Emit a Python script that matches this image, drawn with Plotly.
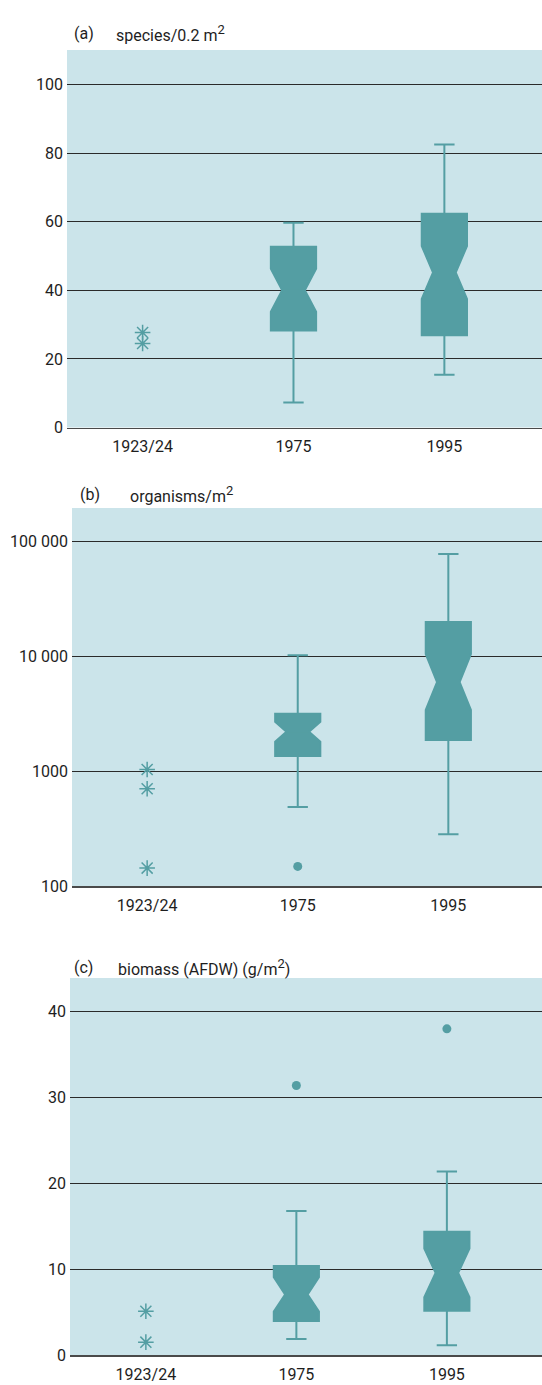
import numpy as np
import plotly.graph_objects as go

# ---------------- data ----------------
categories = ["1923/24", "1975", "1995"]
box_years = ["1975", "1995"]

# (a) species / 0.2 m2
a_stars = [27.7, 24.5]
a_q1 = [28.3, 26.9]
a_median = [40.0, 45.2]
a_q3 = [52.7, 62.3]
a_low = [7.3, 15.4]
a_high = [59.7, 82.5]
a_notch_lo = [33.1, 38.0]
a_notch_hi = [45.6, 53.4]
a_outliers_x, a_outliers_y = [], []

# (b) organisms / m2
b_stars = [1040, 706, 144]
b_q1 = [1360, 1875]
b_median = [2220, 6010]
b_q3 = [3180, 20000]
b_low = [489, 284]
b_high = [10300, 78100]
b_notch_lo = [1778, 3206]
b_notch_hi = [2655, 9795]
b_outliers_x = ["1975"]
b_outliers_y = [149]
b_tickvals = [100, 1000, 10000, 100000]
b_ticktext = ["100", "1000", "10 000", "100 000"]

# (c) biomass (AFDW) g/m2
c_stars = [5.15, 1.55]
c_q1 = [4.0, 5.2]
c_median = [7.1, 9.6]
c_q3 = [10.4, 14.4]
c_low = [1.9, 1.2]
c_high = [16.8, 21.4]
c_notch_lo = [5.1, 6.6]
c_notch_hi = [9.1, 12.25]
c_outliers_x = ["1975", "1995"]
c_outliers_y = [31.4, 38.0]

# ---------------- style ----------------
W, H = 542, 1397
REF_H = 1385.0
TEAL = "#549ea3"
BG = "#cbe4ea"
FONT = "Roboto, 'Open Sans', sans-serif"
TXT = "#1e1e1e"

def px_x(p):
    return p / W

def px_y(p):
    return 1 - p / REF_H

fig = go.Figure()

panels = [
    dict(st=a_stars, q1=a_q1, med=a_median, q3=a_q3, lo=a_low, hi=a_high,
         nlo=a_notch_lo, nhi=a_notch_hi, ox=a_outliers_x, oy=a_outliers_y, log=False,
         xd=(67, 542), yd=(50, 427), xr=(-0.501, 2.647), yr=(0, 110),
         tickvals=[0, 20, 40, 60, 80, 100], ticktext=None),
    dict(st=b_stars, q1=b_q1, med=b_median, q3=b_q3, lo=b_low, hi=b_high,
         nlo=b_notch_lo, nhi=b_notch_hi, ox=b_outliers_x, oy=b_outliers_y, log=True,
         xd=(72, 542), yd=(507.3, 885), xr=(-0.499, 2.622), yr=(2, 5.294),
         tickvals=b_tickvals, ticktext=b_ticktext),
    dict(st=c_stars, q1=c_q1, med=c_median, q3=c_q3, lo=c_low, hi=c_high,
         nlo=c_notch_lo, nhi=c_notch_hi, ox=c_outliers_x, oy=c_outliers_y, log=False,
         xd=(70, 542), yd=(976.7, 1353.5), xr=(-0.504, 2.632), yr=(0, 43.9),
         tickvals=[0, 10, 20, 30, 40], ticktext=None),
]

for i, p in enumerate(panels):
    n = i + 1
    xa = "x" if n == 1 else f"x{n}"
    ya = "y" if n == 1 else f"y{n}"
    f = (lambda v: np.log10(np.array(v, dtype=float))) if p["log"] else (lambda v: np.array(v, dtype=float))
    med = f(p["med"])
    span = (f(p["nhi"]) - f(p["nlo"])) / 2
    fig.add_trace(go.Box(
        x=box_years, q1=f(p["q1"]), median=med, q3=f(p["q3"]),
        lowerfence=f(p["lo"]), upperfence=f(p["hi"]), notchspan=span,
        notched=True, notchwidth=0.25, width=0.30, whiskerwidth=0.45,
        fillcolor=TEAL, line=dict(color=TEAL, width=2), boxpoints=False,
        xaxis=xa, yaxis=ya, showlegend=False, hoverinfo="skip"))
    fig.add_trace(go.Scatter(
        x=[categories[0]] * len(p["st"]), y=f(p["st"]), mode="markers",
        marker=dict(symbol="asterisk-open", size=13, color=TEAL,
                    line=dict(color=TEAL, width=1.5)),
        xaxis=xa, yaxis=ya, showlegend=False, hoverinfo="skip"))
    if len(p["ox"]):
        fig.add_trace(go.Scatter(
            x=p["ox"], y=f(p["oy"]), mode="markers",
            marker=dict(symbol="circle", size=9, color=TEAL),
            xaxis=xa, yaxis=ya, showlegend=False, hoverinfo="skip"))

    xkey = "xaxis" if n == 1 else f"xaxis{n}"
    ykey = "yaxis" if n == 1 else f"yaxis{n}"
    yt = f(p["tickvals"])
    fig.update_layout(**{
        xkey: dict(domain=[px_x(p["xd"][0]), px_x(p["xd"][1])], anchor=ya,
                   type="category", categoryorder="array", categoryarray=categories,
                   range=list(p["xr"]), showgrid=False, zeroline=False,
                   showline=True, linecolor="#4a4a4a", linewidth=1.5,
                   ticks="", tickfont=dict(family=FONT, size=16, color=TXT),
                   ticklabelstandoff=4, fixedrange=True),
        ykey: dict(domain=[px_y(p["yd"][1]), px_y(p["yd"][0])], anchor=xa,
                   range=list(p["yr"]), tickmode="array", tickvals=yt,
                   ticktext=p["ticktext"] if p["ticktext"] else [str(v) for v in p["tickvals"]],
                   showgrid=True, gridcolor="#2a2a2a", gridwidth=1,
                   zeroline=False, showline=False, ticks="",
                   tickfont=dict(family=FONT, size=16, color=TXT),
                   ticklabelstandoff=3, fixedrange=True),
    })

    fig.add_shape(type="rect", xref="paper", yref="paper", layer="below",
                  x0=px_x(p["xd"][0]), x1=px_x(p["xd"][1]),
                  y0=px_y(p["yd"][1]), y1=px_y(p["yd"][0]),
                  fillcolor=BG, line=dict(width=0))

SUP2 = '<sup><span style="font-size:13px">2</span></sup>'
titles = [
    ("(a)", "species/0.2 m" + SUP2, 72, 114, 33),
    ("(b)", "organisms/m" + SUP2, 78, 128, 494),
    ("(c)", "biomass (AFDW) (g/m" + SUP2 + ")", 72, 116, 966),
]
for lab, txt, xl, xt, yc in titles:
    for s, xx in ((lab, xl), (txt, xt)):
        fig.add_annotation(text=s, xref="paper", yref="paper", x=px_x(xx), y=px_y(yc),
                           xanchor="left", yanchor="middle", showarrow=False,
                           font=dict(family=FONT, size=16, color=TXT))

fig.update_layout(width=W, height=H, margin=dict(l=0, r=0, t=0, b=0),
                  paper_bgcolor="white", plot_bgcolor="rgba(0,0,0,0)",
                  font=dict(family=FONT, size=16, color=TXT), showlegend=False)

fig.write_html(
    "out.html",
    config={"displayModeBar": False, "staticPlot": True},
    post_script="document.body.style.margin='0';",
)
